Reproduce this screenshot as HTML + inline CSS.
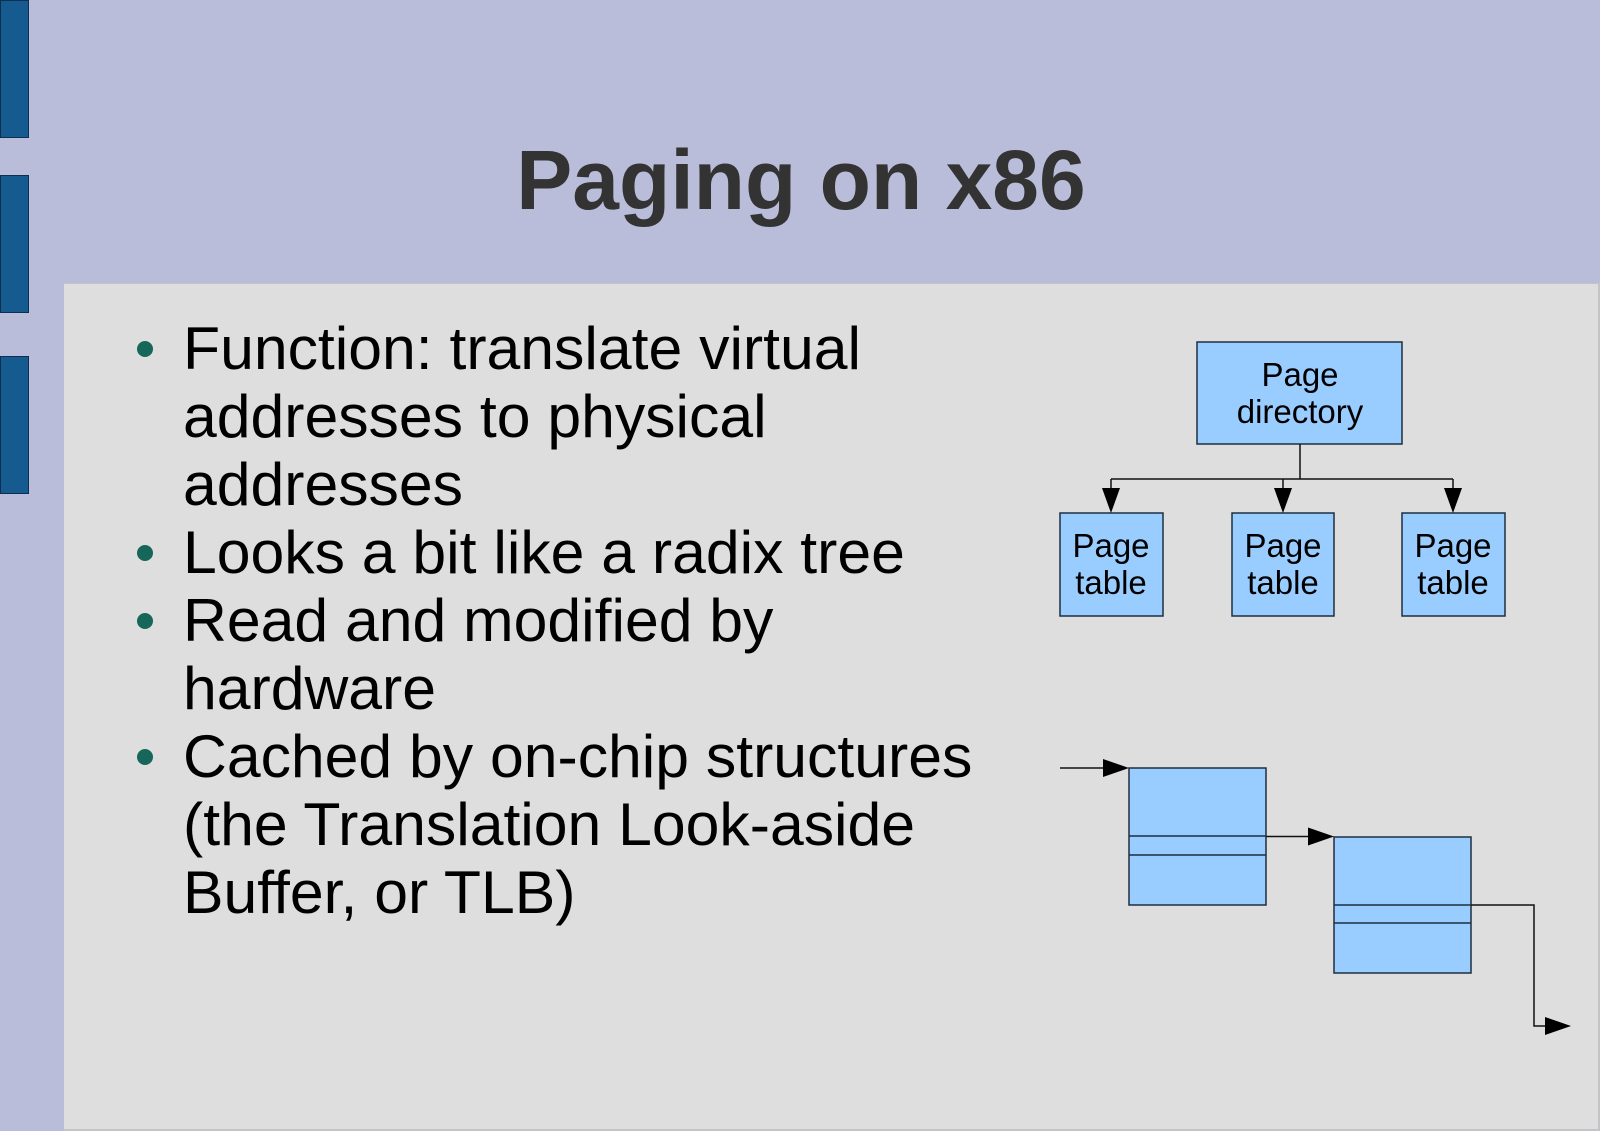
<!DOCTYPE html>
<html><head><meta charset="utf-8"><style>
html,body{margin:0;padding:0;background:#babdda;}
svg{display:block;}
</style></head><body>
<svg width="1600" height="1131" viewBox="0 0 1600 1131" xmlns="http://www.w3.org/2000/svg">
<rect x="0" y="0" width="1600" height="1131" fill="#babdda"/>
<!-- left bars -->
<rect x="0.5" y="0.5" width="28" height="137" fill="#165b90" stroke="#0d2f4f" stroke-width="1"/>
<rect x="0.5" y="175.5" width="28" height="137" fill="#165b90" stroke="#0d2f4f" stroke-width="1"/>
<rect x="0.5" y="356.5" width="28" height="137" fill="#165b90" stroke="#0d2f4f" stroke-width="1"/>
<!-- panel -->
<rect x="64" y="283" width="1536" height="848" fill="#c4c4c8"/>
<rect x="64" y="284" width="1534" height="845" fill="#dedede"/>
<!-- title -->
<text x="801" y="209" text-anchor="middle" font-family="Liberation Sans, Arial, sans-serif" font-weight="bold" font-size="84" fill="#333333">Paging on x86</text>
<!-- bullets -->
<g fill="#17665a">
<circle cx="145" cy="349" r="8"/>
<circle cx="145" cy="553" r="8"/>
<circle cx="145" cy="621" r="8"/>
<circle cx="145" cy="757" r="8"/>
</g>
<g font-family="Liberation Sans, Arial, sans-serif" font-size="60.7" fill="#000">
<text x="183" y="369">Function: translate virtual</text>
<text x="183" y="437">addresses to physical</text>
<text x="183" y="505">addresses</text>
<text x="183" y="573">Looks a bit like a radix tree</text>
<text x="183" y="641">Read and modified by</text>
<text x="183" y="709">hardware</text>
<text x="183" y="777">Cached by on-chip structures</text>
<text x="183" y="845">(the Translation Look-aside</text>
<text x="183" y="913">Buffer, or TLB)</text>
</g>
<!-- tree diagram -->
<g stroke="#1e2e40" stroke-width="1.5" fill="#99ccff">
<rect x="1197" y="342" width="205" height="102"/>
<rect x="1060" y="513" width="103" height="103"/>
<rect x="1232" y="513" width="102" height="103"/>
<rect x="1402" y="513" width="103" height="103"/>
</g>
<g stroke="#111" stroke-width="1.5" fill="none">
<line x1="1300" y1="444" x2="1300" y2="479"/>
<line x1="1111" y1="479" x2="1453" y2="479"/>
<line x1="1111" y1="479" x2="1111" y2="490"/>
<line x1="1283" y1="479" x2="1283" y2="490"/>
<line x1="1453" y1="479" x2="1453" y2="490"/>
</g>
<g fill="#000">
<polygon points="1102,488 1120,488 1111,513"/>
<polygon points="1274,488 1292,488 1283,513"/>
<polygon points="1444,488 1462,488 1453,513"/>
</g>
<g font-family="Liberation Sans, Arial, sans-serif" font-size="33" fill="#000" text-anchor="middle">
<text x="1300" y="386">Page</text>
<text x="1300" y="423">directory</text>
<text x="1111" y="557">Page</text>
<text x="1111" y="594">table</text>
<text x="1283" y="557">Page</text>
<text x="1283" y="594">table</text>
<text x="1453" y="557">Page</text>
<text x="1453" y="594">table</text>
</g>
<!-- linked list diagram -->
<g stroke="#1e2e40" stroke-width="1.5" fill="#99ccff">
<rect x="1129" y="768" width="137" height="137"/>
<rect x="1334" y="837" width="137" height="136"/>
</g>
<g stroke="#1e2e40" stroke-width="1.5" fill="none">
<line x1="1129" y1="836" x2="1266" y2="836"/>
<line x1="1129" y1="855" x2="1266" y2="855"/>
<line x1="1334" y1="905" x2="1471" y2="905"/>
<line x1="1334" y1="923" x2="1471" y2="923"/>
</g>
<g stroke="#111" stroke-width="1.5" fill="none">
<line x1="1060" y1="768" x2="1105" y2="768"/>
<line x1="1266" y1="836.5" x2="1310" y2="836.5"/>
<polyline points="1471,905 1534,905 1534,1026 1546,1026"/>
</g>
<g fill="#000">
<polygon points="1103,759 1129,768 1103,777"/>
<polygon points="1308,827.5 1334,836.5 1308,845.5"/>
<polygon points="1545,1017 1571,1026 1545,1035"/>
</g>
</svg>
</body></html>
